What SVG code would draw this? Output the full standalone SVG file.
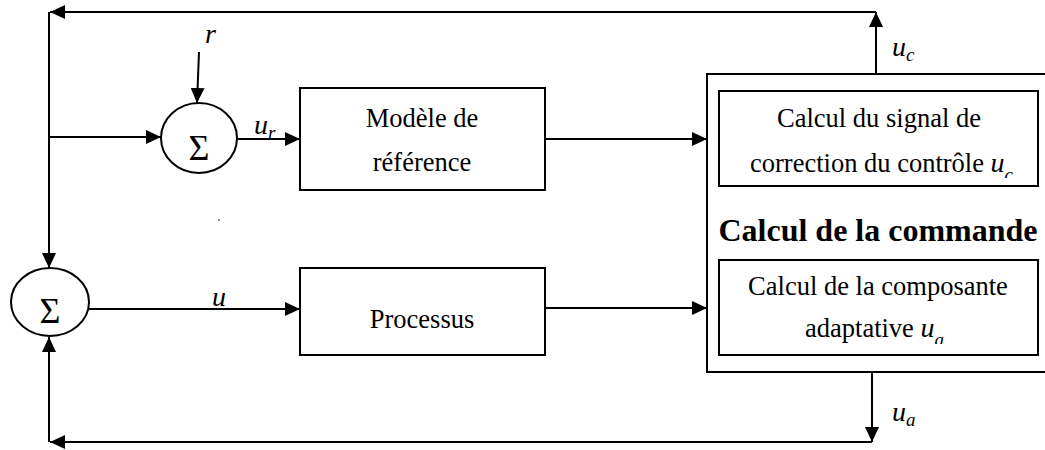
<svg xmlns="http://www.w3.org/2000/svg" width="1045" height="450" viewBox="0 0 1045 450">
  <style>
    .ln { fill: none; stroke: #000; stroke-width: 2; }
    .box { fill: #fff; stroke: #000; stroke-width: 2; }
    .sum { fill: #fff; stroke: #000; stroke-width: 2; }
    .t { font-family: "Liberation Serif", "Times New Roman", serif; font-size: 26.5px; fill: #000; }
    .tb { font-family: "Liberation Serif", "Times New Roman", serif; font-size: 32px; font-weight: bold; fill: #000; }
    .m { font-family: "Liberation Serif", "DejaVu Serif", serif; font-style: italic; font-size: 28px; fill: #000; }
    .sub { font-size: 19px; }
    .sig { font-family: "Liberation Serif", "DejaVu Serif", serif; font-size: 36px; fill: #000; }
  </style>
  <defs>
    <marker id="arr" viewBox="0 0 15 14" refX="15" refY="7" markerWidth="15" markerHeight="14" markerUnits="userSpaceOnUse" orient="auto">
      <path d="M0,0 L15,7 L0,14 Z" fill="#000"/>
    </marker>
    <!-- equation fields are cut off at the bottom of their frames -->
    <clipPath id="clipC"><rect x="719" y="90" width="319" height="88"/></clipPath>
    <clipPath id="clipA"><rect x="719" y="260" width="319" height="84"/></clipPath>
  </defs>

  <!-- connectors -->
  <g id="connectors">
    <path class="ln" d="M876,90 V12" marker-end="url(#arr)"/>
    <path class="ln" d="M876,12 H50" marker-end="url(#arr)"/>
    <path class="ln" d="M49,12 V268" marker-end="url(#arr)"/>
    <path class="ln" d="M49,137 H161" marker-end="url(#arr)"/>
    <path class="ln" d="M199,52 L197,103" marker-end="url(#arr)"/>
    <path class="ln" d="M237,139 H300" marker-end="url(#arr)"/>
    <path class="ln" d="M545,139 H707" marker-end="url(#arr)"/>
    <path class="ln" d="M89,309 H300" marker-end="url(#arr)"/>
    <path class="ln" d="M545,308 H707" marker-end="url(#arr)"/>
    <path class="ln" d="M872,356 V442" marker-end="url(#arr)"/>
    <path class="ln" d="M872,442 H50" marker-end="url(#arr)"/>
    <path class="ln" d="M49,442 V337" marker-end="url(#arr)"/>
  </g>

  <!-- signal labels -->
  <g id="labels">
    <text class="m" x="205" y="43">r</text>
    <text class="m" x="254" y="134">u<tspan class="sub" dy="5">r</tspan></text>
    <text class="m" x="219" y="306" text-anchor="middle">u</text>
    <text class="m" x="892" y="56">u<tspan class="sub" dy="5">c</tspan></text>
    <text class="m" x="892" y="421">u<tspan class="sub" dy="5">a</tspan></text>
  </g>

  <g id="sum-ref">
    <ellipse class="sum" cx="199" cy="138" rx="38" ry="35"/>
    <text class="sig" x="199" y="160" text-anchor="middle">Σ</text>
  </g>

  <g id="sum-cmd">
    <ellipse class="sum" cx="50" cy="302" rx="39" ry="34"/>
    <text class="sig" x="50" y="323" text-anchor="middle">Σ</text>
  </g>

  <g id="modele">
    <rect class="box" x="300" y="88" width="245" height="102"/>
    <text class="t" x="422" y="127" text-anchor="middle">Modèle de</text>
    <text class="t" x="422" y="171" text-anchor="middle">référence</text>
  </g>

  <g id="processus">
    <rect class="box" x="300" y="268" width="245" height="87"/>
    <text class="t" x="422" y="328" text-anchor="middle">Processus</text>
  </g>

  <g id="commande">
    <rect class="box" x="707" y="74" width="360" height="298"/>
    <text class="tb" x="878" y="241" text-anchor="middle">Calcul de la commande</text>
  </g>

  <g id="correction">
    <rect class="box" x="719" y="91" width="319" height="95"/>
    <text class="t" x="879" y="127" text-anchor="middle">Calcul du signal de</text>
    <g clip-path="url(#clipC)">
      <text class="t" x="750" y="172">correction du contrôle <tspan class="m">u</tspan><tspan class="m sub" dy="9">c</tspan></text>
    </g>
  </g>

  <g id="adaptative">
    <rect class="box" x="719" y="260" width="319" height="95"/>
    <text class="t" x="878" y="295" text-anchor="middle">Calcul de la composante</text>
    <g clip-path="url(#clipA)">
      <text class="t" x="805" y="337">adaptative <tspan class="m">u</tspan><tspan class="m sub" dy="9">a</tspan></text>
    </g>
  </g>

  <rect x="218" y="219" width="2" height="2" fill="#888"/>
</svg>
